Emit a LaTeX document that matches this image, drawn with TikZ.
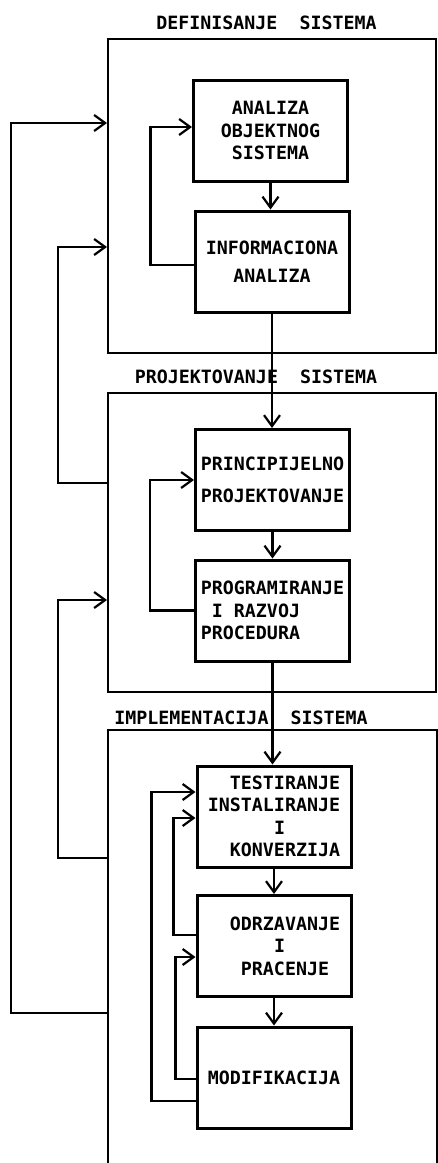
\documentclass[tikz,border=0pt]{standalone}
\usepackage{fontspec}
\setmonofont{DejaVu Sans Mono}
\usetikzlibrary{arrows.meta}

\begin{document}
\begin{tikzpicture}[x=1pt, y=-1pt,
  frame/.style={draw, line width=2pt, minimum width=328pt, inner sep=0pt},
  blok/.style={draw, line width=3pt, minimum width=154pt, minimum height=101pt,
    inner sep=2pt, align=center, font=\ttfamily\bfseries\fontsize{18.3}{22.5}\selectfont},
  naslov/.style={inner sep=0pt, font=\ttfamily\bfseries\fontsize{18.3}{22}\selectfont},
  tok/.style={line width=2.2pt, -{Straight Barb[length=11pt,width=16pt,line width=2.2pt]}}]

% Page size, everything outside is cut away
\clip (0,0) rectangle (438,1163);

% Outer frames of the three phases (the last one runs off the page)
\node[frame, minimum height=314pt] (def) at (272,196) {};
\node[frame, minimum height=299pt] (proj) at (272,542.5) {};
\node[frame, minimum height=460pt, minimum width=329pt] (impl) at (272.5,960) {};

% Phase titles
\node[naslov] (tdef) at (266.5,22.5) {DEFINISANJE~~SISTEMA};
\node[naslov] (tproj) at (256,377) {PROJEKTOVANJE~~SISTEMA};
\node[naslov] (timpl) at (241,718) {IMPLEMENTACIJA~~SISTEMA};

% Activity boxes
\node[blok] (ana) at (270.5,130.5) {ANALIZA\\OBJEKTNOG\\SISTEMA};
\node[blok] (inf) at (272,261.5) {INFORMACIONA\\[6pt]ANALIZA};
\node[blok] (prin) at (272.5,480) {PRINCIPIJELNO\\[10pt]PROJEKTOVANJE};
\node[blok, align=left] (prog) at (272.5,610.5) {PROGRAMIRANJE\\\phantom{X}I RAZVOJ\\PROCEDURA};
\node[blok, align=left] (test) at (274,816.5)
  {\phantom{XX}TESTIRANJE\\INSTALIRANJE\\\phantom{XXXXXX}I\\\phantom{XX}KONVERZIJA};
\node[blok, align=left] (odr) at (274,946)
  {\phantom{XX}ODRZAVANJE\\\phantom{XXXXXX}I\\\phantom{XXX}PRACENJE};
\node[blok] (mod) at (274,1077.5) {\raisebox{-6pt}{MODIFIKACIJA}};

% Main flow downwards
\draw[tok] (ana.south) -- (ana.south |- inf.north);
\draw[tok] (inf.south) -- (inf.south |- prin.north);
\draw[tok] (prin.south) -- (prin.south |- prog.north);
\draw[tok] (prog.south) -- (prog.south |- test.north);
\draw[tok] (test.south) -- (test.south |- odr.north);
\draw[tok] (odr.south) -- (odr.south |- mod.north);

% Feedback inside each phase
\draw[tok] ([yshift=-3.5pt]inf.west) -- ++(-43,0) |- ([yshift=3.5pt]ana.west);
\draw[tok] (prog.west) -- ++(-44,0) |- (prin.west);
\draw[tok] ([yshift=11pt]odr.west) -- ++(-22,0) |- ([yshift=-1.5pt]test.west);
\draw[tok] ([yshift=-1.5pt]mod.west) -- ++(-20,0) |- ([yshift=-11pt]odr.west);
\draw[tok] ([yshift=-23.5pt]mod.west) -- ++(-44,0) |- ([yshift=24.5pt]test.west);

% Feedback between phases
\draw[tok] ([yshift=59.5pt]proj.west) -- ++(-49,0) |- ([yshift=-51pt]def.west);
\draw[tok] ([yshift=102pt]impl.west) -- ++(-49,0) |- ([yshift=-57.5pt]proj.west);
\draw[tok] ([yshift=-53pt]impl.west) -- ++(-96,0) |- ([yshift=73pt]def.west);

\end{tikzpicture}
\end{document}
